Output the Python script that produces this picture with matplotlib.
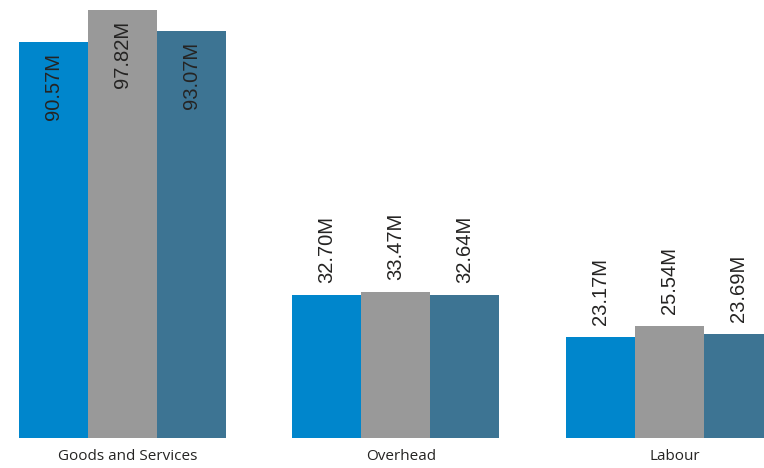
import matplotlib.pyplot as plt
import numpy as np

categories = ["Goods and Services", "Overhead", "Labour"]
series_1 = [90.57, 32.70, 23.17]
series_2 = [97.82, 33.47, 25.54]
series_3 = [93.07, 32.64, 23.69]

colors = ["#0086CC", "#999999", "#3D7493"]
text_col = "#252423"

fig = plt.figure(figsize=(7.64, 4.68), dpi=100)
ax = fig.add_axes([0, 30 / 468, 1, 438 / 468])

x = np.arange(len(categories))
w = 69 / 273.5
all_series = [series_1, series_2, series_3]

for i, (vals, c) in enumerate(zip(all_series, colors)):
    pos = x + (i - 1) * w
    ax.bar(pos, vals, width=w, color=c, linewidth=0)
    for p, v in zip(pos, vals):
        lbl = "%.2fM" % v
        if v > 60:
            # label inside the bar, top-aligned
            ax.annotate(lbl, (p, v), xytext=(0, -11), textcoords="offset pixels",
                        rotation=90, ha="center", va="top", fontsize=14.5,
                        color=text_col, family="Liberation Sans")
        else:
            ax.annotate(lbl, (p, v), xytext=(0, 12), textcoords="offset pixels",
                        rotation=90, ha="center", va="bottom", fontsize=14.5,
                        color=text_col, family="Liberation Sans")

ax.set_ylim(0, 438 / 4.372)
ax.set_xlim(-122.5 / 273.5, (764 - 122.5) / 273.5)

# category labels sit slightly right of the group centre
for xi, name in zip(x, categories):
    ax.text(xi + 5 / 273.5, -18 / 4.372, name, ha="center", va="center",
            fontsize=11, color=text_col, family="Open Sans")

ax.set_xticks([])
ax.set_yticks([])
for s in ax.spines.values():
    s.set_visible(False)

fig.savefig("out.png", dpi=100)
